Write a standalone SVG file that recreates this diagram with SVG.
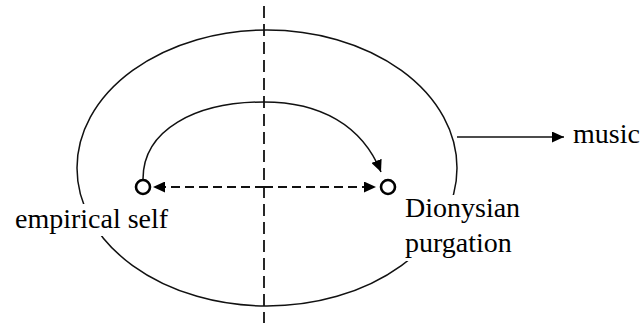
<svg xmlns="http://www.w3.org/2000/svg" width="642" height="323" viewBox="0 0 642 323">
  <defs>
    <style>
      .ln { fill: none; stroke: #111; stroke-width: 1.5; }
      .dash-v { fill: none; stroke: #111; stroke-width: 1.8; stroke-dasharray: 12 6; }
      .dash-h { fill: none; stroke: #111; stroke-width: 1.8; stroke-dasharray: 9 5; }
      .node { fill: #fff; stroke: #000; stroke-width: 2.6; }
      .lbl { font-family: "Liberation Serif", "Times New Roman", serif; font-size: 28px; fill: #000; }
      .bg { fill: #fff; stroke: none; }
    </style>
    <marker id="ah" markerWidth="13" markerHeight="11" refX="12" refY="5.5" orient="auto" markerUnits="userSpaceOnUse">
      <path d="M0,0 L12,5.5 L0,11 Z" fill="#000"/>
    </marker>
  </defs>
  <rect width="642" height="323" fill="#fff"/>

  <g id="boundary">
    <ellipse cx="267" cy="168" rx="190" ry="138" class="ln"/>
  </g>

  <g id="axis">
    <line x1="264" y1="6" x2="264" y2="323" class="dash-v"/>
  </g>

  <g id="connectors">
    <path d="M143,179 C143,130 195,102 264,102 C320,102 362,125 381,172" class="ln" marker-end="url(#ah)"/>
    <line x1="264" y1="187" x2="153" y2="187" class="dash-h" marker-end="url(#ah)"/>
    <line x1="264" y1="187" x2="376" y2="187" class="dash-h" marker-end="url(#ah)"/>
    <line x1="457" y1="137" x2="564" y2="137" class="ln" marker-end="url(#ah)"/>
  </g>

  <g id="node-empirical-self">
    <circle cx="143" cy="187" r="7" class="node"/>
    <rect x="12" y="204" width="162" height="32" class="bg"/>
    <text x="15" y="228" class="lbl">empirical self</text>
  </g>

  <g id="node-dionysian-purgation">
    <circle cx="388" cy="187" r="7" class="node"/>
    <rect x="401" y="195" width="126" height="66" class="bg"/>
    <text x="405" y="217" class="lbl">Dionysian</text>
    <text x="405" y="252" class="lbl">purgation</text>
  </g>

  <g id="node-music">
    <text x="573" y="143" class="lbl">music</text>
  </g>
</svg>
